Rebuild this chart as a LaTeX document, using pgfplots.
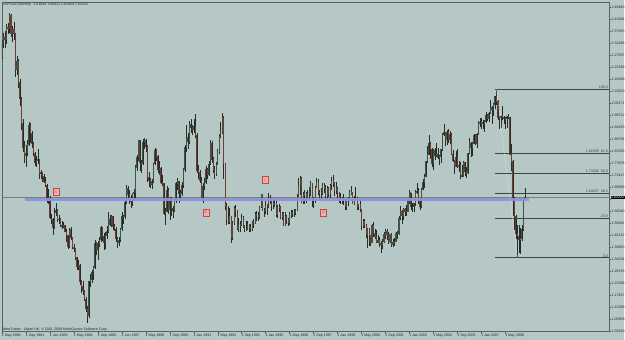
\documentclass[border=0pt]{standalone}
\usepackage{fontspec}
\setmainfont{Liberation Sans}
\usepackage{pgfplots}
\pgfplotsset{compat=1.18}
\usepackage{pgfplotstable}
\definecolor{bg}{RGB}{181,200,197}
\definecolor{framec}{RGB}{88,98,96}
\definecolor{wick}{RGB}{36,46,40}
\definecolor{bull}{RGB}{62,84,70}
\definecolor{bear}{RGB}{116,58,52}
\definecolor{band}{RGB}{141,147,218}
\definecolor{fibc}{RGB}{58,68,66}
\definecolor{boxfill}{RGB}{232,180,176}
\definecolor{boxdraw}{RGB}{205,70,70}
\newcommand{\tf}{\fontsize{3.6}{4}\selectfont}
\pgfplotstableread{
m o h l c
0 2.2650 2.3400 2.2500 2.3250
1 2.3250 2.3700 2.3000 2.3500
2 2.3500 2.3780 2.3000 2.3400
3 2.3400 2.4100 2.3200 2.3950
4 2.3950 2.4150 2.3650 2.3900
5 2.3900 2.4600 2.3700 2.4500
6 2.4500 2.4550 2.3500 2.3650
7 2.3650 2.4000 2.3300 2.3850
8 2.3850 2.4200 2.3400 2.3650
9 2.3650 2.3700 2.1700 2.2050
10 2.2050 2.2650 2.1800 2.2400
11 2.2400 2.2500 2.1200 2.1450
12 2.1450 2.1600 2.0400 2.0700
13 2.0700 2.0800 1.9300 1.9600
14 1.9600 1.9800 1.8300 1.8500
15 1.8500 1.8800 1.7800 1.8150
16 1.8150 1.8600 1.7600 1.8250
17 1.8250 1.8850 1.8100 1.8650
18 1.8650 1.9650 1.8550 1.9500
19 1.9500 1.9600 1.8700 1.9150
20 1.9150 1.9250 1.8500 1.8700
21 1.8700 1.8750 1.8100 1.8250
22 1.8250 1.8300 1.7650 1.7800
23 1.7800 1.8100 1.7600 1.7900
24 1.7900 1.8450 1.7750 1.7950
25 1.7950 1.8000 1.7050 1.7300
26 1.7300 1.7500 1.7050 1.7350
27 1.7350 1.7400 1.6950 1.7200
28 1.7200 1.7300 1.6900 1.6950
29 1.6950 1.7150 1.6700 1.6800
30 1.6800 1.6850 1.6000 1.6150
31 1.6150 1.6600 1.5950 1.6150
32 1.6150 1.6300 1.5250 1.5300
33 1.5300 1.5500 1.5050 1.5250
34 1.5250 1.5300 1.4550 1.4850
35 1.4850 1.5750 1.4800 1.5550
36 1.5550 1.6000 1.5400 1.5650
37 1.5650 1.5700 1.5100 1.5250
38 1.5250 1.5450 1.5050 1.5250
39 1.5250 1.5300 1.4900 1.4950
40 1.4950 1.5150 1.4800 1.4950
41 1.4950 1.5100 1.4850 1.4950
42 1.4950 1.5000 1.4650 1.4700
43 1.4700 1.4800 1.4200 1.4500
44 1.4500 1.4550 1.3900 1.4000
45 1.4000 1.4850 1.3950 1.4800
46 1.4800 1.4900 1.4300 1.4400
47 1.4400 1.4450 1.3900 1.3950
48 1.3950 1.4100 1.3750 1.3900
49 1.3900 1.3950 1.3400 1.3500
50 1.3500 1.3550 1.2950 1.3100
51 1.3100 1.3400 1.2950 1.3150
52 1.3150 1.3200 1.2250 1.2400
53 1.2400 1.2500 1.1900 1.2200
54 1.2200 1.2450 1.1800 1.2000
55 1.2000 1.2050 1.1550 1.1600
56 1.1600 1.1700 1.1050 1.1200
57 1.1200 1.1300 1.0520 1.0850
58 1.0850 1.2450 1.0750 1.2400
59 1.2400 1.2750 1.2150 1.2500
60 1.2500 1.2950 1.2350 1.2850
61 1.2850 1.3100 1.2500 1.3050
62 1.3050 1.4300 1.3000 1.4150
63 1.4150 1.4200 1.3600 1.3850
64 1.3850 1.4250 1.3400 1.4150
65 1.4150 1.4450 1.4000 1.4300
66 1.4300 1.4950 1.4200 1.4850
67 1.4850 1.4900 1.4250 1.4450
68 1.4450 1.4600 1.3850 1.4200
69 1.4200 1.4650 1.3900 1.4500
70 1.4500 1.4950 1.4350 1.4700
71 1.4700 1.5550 1.4600 1.5250
72 1.5250 1.5450 1.4950 1.5000
73 1.5000 1.5450 1.4900 1.5350
74 1.5350 1.5400 1.4750 1.4900
75 1.4900 1.5050 1.4700 1.4800
76 1.4800 1.4900 1.4200 1.4350
77 1.4350 1.4450 1.3950 1.4200
78 1.4200 1.4450 1.4050 1.4300
79 1.4300 1.4850 1.4200 1.4800
80 1.4800 1.5550 1.4700 1.5350
81 1.5350 1.5450 1.5050 1.5350
82 1.5350 1.6100 1.5250 1.6000
83 1.6000 1.6800 1.5950 1.6650
84 1.6650 1.6750 1.6200 1.6350
85 1.6350 1.6550 1.5950 1.6100
86 1.6100 1.6350 1.5750 1.6050
87 1.6050 1.6450 1.5850 1.6400
88 1.6400 1.6600 1.6050 1.6450
89 1.6450 1.7700 1.6200 1.7600
90 1.7600 1.8150 1.7450 1.8050
91 1.8050 1.8850 1.7900 1.8800
92 1.8800 1.8850 1.7450 1.7800
93 1.7800 1.7950 1.7350 1.7750
94 1.7750 1.8900 1.7700 1.8750
95 1.8750 1.8950 1.8450 1.8800
96 1.8800 1.8900 1.8300 1.8550
97 1.8550 1.8600 1.6950 1.7150
98 1.7150 1.7400 1.6700 1.7000
99 1.7000 1.7100 1.6650 1.6800
100 1.6800 1.7050 1.6600 1.6950
101 1.6950 1.7800 1.6900 1.7750
102 1.7750 1.8500 1.7700 1.8350
103 1.8350 1.8450 1.7900 1.8100
104 1.8100 1.8150 1.7350 1.7500
105 1.7500 1.7900 1.7250 1.7550
106 1.7550 1.7600 1.6850 1.6900
107 1.6900 1.7250 1.6750 1.6850
108 1.6850 1.6900 1.5450 1.5500
109 1.5500 1.5750 1.5000 1.5600
110 1.5600 1.6750 1.5550 1.6550
111 1.6550 1.6650 1.5500 1.5700
112 1.5700 1.6250 1.5200 1.6100
113 1.6100 1.6250 1.5400 1.5750
114 1.5750 1.5850 1.5300 1.5650
115 1.5650 1.6200 1.5550 1.6100
116 1.6100 1.6950 1.6000 1.6850
117 1.6850 1.7100 1.6550 1.6950
118 1.6950 1.7000 1.6000 1.6400
119 1.6400 1.6550 1.6150 1.6400
120 1.6400 1.6950 1.6300 1.6800
121 1.6800 1.7550 1.6650 1.7500
122 1.7500 1.8600 1.7400 1.8500
123 1.8500 1.9500 1.8300 1.8950
124 1.8950 1.9150 1.8450 1.8750
125 1.8750 1.9700 1.8650 1.9550
126 1.9550 1.9800 1.9150 1.9400
127 1.9400 1.9500 1.9050 1.9300
128 1.9300 1.9800 1.9150 1.9450
129 1.9450 2.0000 1.8950 1.9050
130 1.9050 1.9150 1.7350 1.7450
131 1.7450 1.7700 1.7050 1.7350
132 1.7350 1.7500 1.6900 1.7000
133 1.7000 1.7150 1.6100 1.6200
134 1.6200 1.6900 1.6000 1.6750
135 1.6750 1.7100 1.6550 1.6900
136 1.6900 1.7650 1.6850 1.7500
137 1.7500 1.7550 1.7050 1.7250
138 1.7250 1.7900 1.7200 1.7750
139 1.7750 1.8850 1.7700 1.8700
140 1.8700 1.8800 1.7800 1.7950
141 1.7950 1.8050 1.7350 1.7500
142 1.7500 1.7650 1.7050 1.7300
143 1.7300 1.7850 1.7200 1.7750
144 1.7750 1.8450 1.7700 1.8300
145 1.8300 1.9100 1.8200 1.9000
146 1.9000 1.9650 1.8950 1.9200
147 1.9200 2.0050 1.9100 1.9850
148 1.9850 1.9950 1.7050 1.7750
149 1.7750 1.7800 1.5650 1.5850
150 1.5850 1.6000 1.5000 1.5250
151 1.5250 1.5850 1.5050 1.5150
152 1.5150 1.5750 1.5050 1.5350
153 1.5350 1.5400 1.4150 1.4400
154 1.4400 1.5150 1.4300 1.5050
155 1.5050 1.5850 1.5000 1.5750
156 1.5750 1.5900 1.5350 1.5600
157 1.5600 1.5650 1.4750 1.4800
158 1.4800 1.5300 1.4650 1.4950
159 1.4950 1.5150 1.4650 1.5000
160 1.5000 1.5500 1.4950 1.5300
161 1.5300 1.5400 1.4850 1.4900
162 1.4900 1.5000 1.4650 1.4800
163 1.4800 1.5150 1.4700 1.4800
164 1.4800 1.5150 1.4750 1.5000
165 1.5000 1.5050 1.4650 1.4850
166 1.4850 1.5050 1.4650 1.4800
167 1.4800 1.5150 1.4700 1.5100
168 1.5100 1.5250 1.4850 1.5100
169 1.5100 1.5550 1.5050 1.5450
170 1.5450 1.5600 1.5150 1.5400
171 1.5400 1.5550 1.5150 1.5350
172 1.5350 1.5850 1.5250 1.5800
173 1.5800 1.6400 1.5750 1.6350
174 1.6350 1.6400 1.5600 1.5650
175 1.5650 1.5750 1.5350 1.5650
176 1.5650 1.6050 1.5500 1.5850
177 1.5850 1.5950 1.5450 1.5800
178 1.5800 1.6450 1.5750 1.6200
179 1.6200 1.6350 1.5950 1.6100
180 1.6100 1.6150 1.5600 1.5850
181 1.5850 1.6100 1.5700 1.5950
182 1.5950 1.6150 1.5800 1.5950
183 1.5950 1.6050 1.5350 1.5450
184 1.5450 1.5900 1.5300 1.5800
185 1.5800 1.5950 1.5550 1.5800
186 1.5800 1.5850 1.5250 1.5300
187 1.5300 1.5550 1.5200 1.5500
188 1.5500 1.5550 1.4950 1.5000
189 1.5000 1.5550 1.4950 1.5350
190 1.5350 1.5450 1.5050 1.5250
191 1.5250 1.5300 1.4950 1.5100
192 1.5100 1.5550 1.5000 1.5500
193 1.5500 1.5650 1.5300 1.5500
194 1.5500 1.5650 1.5350 1.5550
195 1.5550 1.5700 1.5350 1.5550
196 1.5550 1.5700 1.5450 1.5650
197 1.5650 1.6400 1.5600 1.6300
198 1.6300 1.7100 1.6250 1.6800
199 1.6800 1.7200 1.6350 1.7100
200 1.7100 1.7150 1.6000 1.6050
201 1.6050 1.6500 1.5950 1.6350
202 1.6350 1.6550 1.5950 1.6400
203 1.6400 1.6500 1.6000 1.6200
204 1.6200 1.6550 1.6100 1.6350
205 1.6350 1.6700 1.6150 1.6650
206 1.6650 1.7000 1.6300 1.6850
207 1.6850 1.6900 1.5800 1.6100
208 1.6100 1.6250 1.5750 1.6150
209 1.6150 1.6750 1.6000 1.6700
210 1.6700 1.7100 1.6650 1.6900
211 1.6900 1.7050 1.6350 1.6450
212 1.6450 1.6550 1.6100 1.6400
213 1.6400 1.6650 1.6150 1.6450
214 1.6450 1.6900 1.6350 1.6800
215 1.6800 1.6900 1.6450 1.6700
216 1.6700 1.6800 1.6150 1.6300
217 1.6300 1.6750 1.6150 1.6650
218 1.6650 1.6700 1.6250 1.6400
219 1.6400 1.6850 1.6150 1.6800
220 1.6800 1.7150 1.6550 1.6950
221 1.6950 1.7250 1.6700 1.6850
222 1.6850 1.6950 1.6300 1.6550
223 1.6550 1.6950 1.6400 1.6650
224 1.6650 1.6700 1.6150 1.6450
225 1.6450 1.6500 1.6000 1.6100
226 1.6100 1.6450 1.5950 1.6150
227 1.6150 1.6250 1.5950 1.6100
228 1.6100 1.6400 1.5900 1.6100
229 1.6100 1.6150 1.5650 1.5800
230 1.5800 1.6200 1.5650 1.6100
231 1.6100 1.6250 1.5850 1.6100
232 1.6100 1.6550 1.6050 1.6450
233 1.6450 1.6750 1.6350 1.6450
234 1.6450 1.6500 1.5950 1.5950
235 1.5950 1.6300 1.5900 1.6150
236 1.6150 1.6700 1.6100 1.6150
237 1.6150 1.6250 1.5650 1.5800
238 1.5800 1.5950 1.5650 1.5900
239 1.5900 1.6050 1.5550 1.5650
240 1.5650 1.5700 1.4750 1.4950
241 1.4950 1.5250 1.4850 1.5150
242 1.5150 1.5250 1.4850 1.4950
243 1.4950 1.5050 1.4400 1.4550
244 1.4550 1.4850 1.3950 1.4800
245 1.4800 1.4850 1.4050 1.4500
246 1.4500 1.4550 1.4050 1.4200
247 1.4200 1.5050 1.4150 1.4950
248 1.4950 1.5100 1.4450 1.4600
249 1.4600 1.4800 1.4350 1.4450
250 1.4450 1.4750 1.4150 1.4200
251 1.4200 1.4550 1.4150 1.4300
252 1.4300 1.4450 1.4000 1.4150
253 1.4150 1.4250 1.3700 1.4100
254 1.4100 1.4350 1.3900 1.4250
255 1.4250 1.4650 1.4150 1.4550
256 1.4550 1.4800 1.4350 1.4700
257 1.4700 1.4800 1.4300 1.4550
258 1.4550 1.4650 1.4100 1.4250
259 1.4250 1.4550 1.4150 1.4550
260 1.4550 1.4600 1.4000 1.4100
261 1.4100 1.4350 1.4000 1.4200
262 1.4200 1.4400 1.4050 1.4250
263 1.4250 1.4650 1.4200 1.4600
264 1.4600 1.4700 1.4350 1.4600
265 1.4600 1.5400 1.4550 1.5300
266 1.5300 1.5850 1.5200 1.5600
267 1.5600 1.5650 1.5050 1.5400
268 1.5400 1.5750 1.5200 1.5700
269 1.5700 1.5750 1.5400 1.5600
270 1.5600 1.5900 1.5400 1.5600
271 1.5600 1.6150 1.5550 1.6100
272 1.6100 1.6550 1.5950 1.6450
273 1.6450 1.6450 1.5650 1.5800
274 1.5800 1.6000 1.5550 1.5800
275 1.5800 1.6000 1.5550 1.5950
276 1.5950 1.6550 1.5850 1.6450
277 1.6450 1.6900 1.6400 1.6500
278 1.6500 1.6650 1.5950 1.6100
279 1.6100 1.6200 1.5650 1.5800
280 1.5800 1.6650 1.5750 1.6600
281 1.6600 1.7050 1.6550 1.6900
282 1.6900 1.7300 1.6650 1.7200
283 1.7200 1.7900 1.7150 1.7850
284 1.7850 1.8550 1.7800 1.8200
285 1.8200 1.9050 1.8150 1.8700
286 1.8700 1.8750 1.8000 1.8400
287 1.8400 1.8500 1.7600 1.7750
288 1.7750 1.8450 1.7500 1.8350
289 1.8350 1.8500 1.7950 1.8150
290 1.8150 1.8700 1.8050 1.8200
291 1.8200 1.8500 1.8000 1.8050
292 1.8050 1.8150 1.7700 1.8100
293 1.8100 1.8450 1.7800 1.8400
294 1.8400 1.9150 1.8350 1.9100
295 1.9100 1.9550 1.9000 1.9200
296 1.9200 1.9200 1.8550 1.8850
297 1.8850 1.9300 1.8600 1.9200
298 1.9200 1.9350 1.8700 1.8850
299 1.8850 1.9250 1.8650 1.9100
300 1.9100 1.9150 1.8150 1.8200
301 1.8200 1.8400 1.7850 1.7900
302 1.7900 1.7950 1.7300 1.7650
303 1.7650 1.8350 1.7600 1.8050
304 1.8050 1.8450 1.7550 1.7650
305 1.7650 1.7900 1.7400 1.7700
306 1.7700 1.7850 1.7050 1.7250
307 1.7250 1.7700 1.7150 1.7200
308 1.7200 1.7900 1.7150 1.7800
309 1.7800 1.7850 1.7200 1.7400
310 1.7400 1.7600 1.7100 1.7350
311 1.7350 1.8250 1.7300 1.8250
312 1.8250 1.8950 1.8200 1.8700
313 1.8700 1.8750 1.8050 1.8500
314 1.8500 1.8750 1.8100 1.8700
315 1.8700 1.9100 1.8650 1.9050
316 1.9050 1.9100 1.8600 1.8700
317 1.8700 1.9150 1.8500 1.9100
318 1.9100 1.9700 1.9050 1.9650
319 1.9650 1.9850 1.9450 1.9600
320 1.9600 1.9850 1.9350 1.9650
321 1.9650 1.9750 1.9350 1.9600
322 1.9600 1.9750 1.9200 1.9700
323 1.9700 2.0100 1.9600 1.9950
324 1.9950 2.0000 1.9700 1.9800
325 1.9800 2.0100 1.9650 2.0050
326 2.0050 2.0650 2.0000 2.0300
327 2.0300 2.0400 1.9550 2.0200
328 2.0200 2.0500 1.9950 2.0450
329 2.0450 2.0850 2.0250 2.0800
330 2.0800 2.1161 2.0450 2.0600
331 2.0600 2.0650 1.9750 1.9850
332 1.9850 1.9950 1.9350 1.9900
333 1.9900 1.9950 1.9400 1.9900
334 1.9900 2.0400 1.9750 1.9850
335 1.9850 1.9950 1.9550 1.9800
336 1.9800 1.9900 1.9350 1.9800
337 1.9800 1.9950 1.9400 1.9900
338 1.9900 2.0000 1.9800 1.9850
339 1.9850 1.9900 1.8150 1.8200
340 1.8200 1.8650 1.7450 1.7850
341 1.7850 1.7950 1.5400 1.6100
342 1.6100 1.6250 1.4750 1.5350
343 1.5350 1.5450 1.4350 1.4600
344 1.4600 1.5000 1.3500 1.4450
345 1.4450 1.5000 1.3700 1.4300
346 1.4300 1.4850 1.3650 1.4350
347 1.4350 1.5000 1.4250 1.4800
348 1.4800 1.6200 1.4700 1.6185
349 1.61846 1.66621 1.61609 1.62322
}\candles

\begin{document}
\begin{tikzpicture}[x=1pt,y=1pt]
\fill[bg] (0,0) rectangle (625,340);
\begin{axis}[
  at={(2pt,8pt)}, anchor=south west,
  scale only axis, width=608pt, height=330pt,
  xmin=0, xmax=405.33, ymin=1.0145, ymax=2.5105,
  clip mode=individual,
  axis background/.style={fill=bg},
  axis line style={draw=framec, line width=0.6pt},
  tick style={draw=framec, line width=0.4pt},
  major tick length=2pt, tick align=outside,
  xtick pos=bottom, ytick pos=right, yticklabel pos=right,
  xtick={0,16,32,48,64,80,96,112,128,144,160,176,192,208,224,240,256,272,288,304,320,336},
  xticklabels={1 May 1980,1 Sep 1981,1 Jan 1983,1 May 1984,1 Sep 1985,1 Jan 1987,1 May 1988,1 Sep 1989,1 Jan 1991,1 May 1992,1 Sep 1993,1 Jan 1995,1 May 1996,1 Sep 1997,1 Jan 1999,1 May 2000,1 Sep 2001,1 Jan 2003,1 May 2004,1 Sep 2005,1 Jan 2007,1 May 2008},
  xticklabel style={anchor=north west, inner sep=0.3pt, font=\tf, text=black!85, xshift=-0.6pt},
  ytick={1.0145,1.06909,1.12368,1.17827,1.23286,1.28745,1.34204,1.39663,1.45122,1.50581,1.5604,1.61499,1.66958,1.72417,1.77876,1.83335,1.88794,1.94253,1.99712,2.05171,2.1063,2.16089,2.21548,2.27007,2.32466,2.37925,2.43384,2.48843},
  yticklabels={1.01450,1.06909,1.12368,1.17827,1.23286,1.28745,1.34204,1.39663,1.45122,1.50581,1.56040,,1.66958,1.72417,1.77876,1.83335,1.88794,1.94253,1.99712,2.05171,2.10630,2.16089,2.21548,2.27007,2.32466,2.37925,2.43384,2.48843},
  yticklabel style={anchor=west, inner sep=0.3pt, font=\tf, text=black!85},
]
% current price line
\addplot[forget plot, color=framec!80, line width=0.35pt] coordinates {(0,1.62322) (405.33,1.62322)};
% wicks
\addplot[forget plot, draw=none, mark=none,
  error bars/.cd, y dir=both, y explicit, error mark=none,
  error bar style={draw=wick, line width=0.45pt}]
  table[x=m, y expr={(\thisrow{h}+\thisrow{l})/2}, y error expr={(\thisrow{h}-\thisrow{l})/2}] {\candles};
% bull bodies
\addplot[forget plot, draw=none, mark=none,
  restrict expr to domain={\thisrow{c}-\thisrow{o}}{0:10},
  error bars/.cd, y dir=both, y explicit, error mark=none,
  error bar style={draw=bull, line width=1.05pt}]
  table[x=m, y expr={(\thisrow{o}+\thisrow{c})/2}, y error expr={abs(\thisrow{c}-\thisrow{o})/2+0.002}] {\candles};
% bear bodies
\addplot[forget plot, draw=none, mark=none,
  restrict expr to domain={\thisrow{o}-\thisrow{c}}{0.000001:10},
  error bars/.cd, y dir=both, y explicit, error mark=none,
  error bar style={draw=bear, line width=1.05pt}]
  table[x=m, y expr={(\thisrow{o}+\thisrow{c})/2}, y error expr={abs(\thisrow{c}-\thisrow{o})/2+0.002}] {\candles};
% horizontal blue line
\addplot[forget plot, color=band, line width=3.3pt, opacity=0.95] coordinates {(15.3,1.6145) (352,1.6145)};
% fibonacci levels
\addplot[forget plot, color=fibc, line width=0.5pt] coordinates {(329,2.1161) (405.33,2.1161)};
\addplot[forget plot, color=fibc, line width=0.5pt] coordinates {(329,1.82345) (405.33,1.82345)};
\addplot[forget plot, color=fibc, line width=0.5pt] coordinates {(329,1.73305) (405.33,1.73305)};
\addplot[forget plot, color=fibc, line width=0.5pt] coordinates {(329,1.64265) (405.33,1.64265)};
\addplot[forget plot, color=fibc, line width=0.5pt] coordinates {(329,1.5308) (405.33,1.5308)};
\addplot[forget plot, color=fibc, line width=0.5pt] coordinates {(329,1.35) (405.33,1.35)};
\addplot[forget plot, color=white!85!bg, densely dotted, line width=0.5pt] coordinates {(330,2.1161) (344,1.35)};
\node[anchor=south east, inner sep=0.3pt, font=\tf, text=fibc] at (axis cs:404.8,2.1161) {100.0};
\node[anchor=south east, inner sep=0.3pt, font=\tf, text=fibc] at (axis cs:404.8,1.82345) {1.82355 \ 61.8};
\node[anchor=south east, inner sep=0.3pt, font=\tf, text=fibc] at (axis cs:404.8,1.73305) {1.73306 \ 50.0};
\node[anchor=south east, inner sep=0.3pt, font=\tf, text=fibc] at (axis cs:404.8,1.64265) {1.64257 \ 38.2};
\node[anchor=south east, inner sep=0.3pt, font=\tf, text=fibc] at (axis cs:404.8,1.5308) {23.6};
\node[anchor=south east, inner sep=0.3pt, font=\tf, text=fibc] at (axis cs:404.8,1.35) {0.0};
% letter boxes
\node[draw=boxdraw, fill=boxfill, text=boxdraw, line width=0.4pt, inner sep=0.4pt, minimum width=6pt, minimum height=7pt, font=\tf] at (axis cs:36,1.649) {A};
\node[draw=boxdraw, fill=boxfill, text=boxdraw, line width=0.4pt, inner sep=0.4pt, minimum width=6pt, minimum height=7pt, font=\tf] at (axis cs:136,1.554) {B};
\node[draw=boxdraw, fill=boxfill, text=boxdraw, line width=0.4pt, inner sep=0.4pt, minimum width=6pt, minimum height=7pt, font=\tf] at (axis cs:176,1.703) {C};
\node[draw=boxdraw, fill=boxfill, text=boxdraw, line width=0.4pt, inner sep=0.4pt, minimum width=6pt, minimum height=7pt, font=\tf] at (axis cs:214.7,1.554) {D};
% current price tag
\node[anchor=west, fill=black, text=white, inner sep=0.5pt, font=\tf, xshift=1.2pt] at (axis cs:405.33,1.62322) {1.62322};
% texts
\node[anchor=north west, inner sep=0.3pt, font=\tf, text=black!85] at (rel axis cs:0,1) {GBPUSD,Monthly \ 1.61846 1.66621 1.61609 1.62322};
\node[anchor=south west, inner sep=0.3pt, font=\tf, text=black!85] at (rel axis cs:0,0) {MetaTrader - Alpari UK, © 2001-2009 MetaQuotes Software Corp.};
\end{axis}
\end{tikzpicture}
\end{document}
